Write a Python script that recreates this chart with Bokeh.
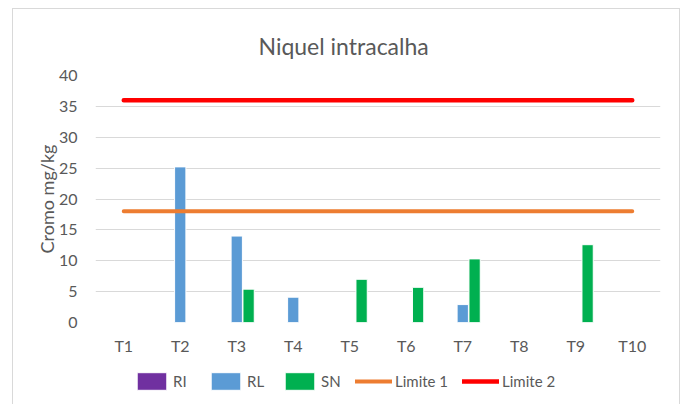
from bokeh.plotting import figure
from bokeh.models import ColumnDataSource, Range1d, FactorRange, Legend, LegendItem, Title
from bokeh.layouts import column
from bokeh.transform import dodge
from bokeh.embed import file_html
from bokeh.resources import INLINE

categories = ["T1", "T2", "T3", "T4", "T5", "T6", "T7", "T8", "T9", "T10"]
ri = [0, 0, 0, 0, 0, 0, 0, 0, 0, 0]
rl = [0, 25.2, 14.0, 4.1, 0, 0, 2.9, 0, 0, 0]
sn = [0, 0, 5.4, 0, 7.0, 5.7, 10.3, 0, 12.6, 0]
limite1 = [18] * 10
limite2 = [36] * 10
colors = {"RI": "#7030A0", "RL": "#5B9BD5", "SN": "#00B050", "Limite 1": "#ED7D31", "Limite 2": "#FF0000"}

src = ColumnDataSource(dict(cat=categories, RI=ri, RL=rl, SN=sn, L1=limite1, L2=limite2))

FONT = "Lato"
GREY = "#595959"


def draw(fig):
    rs = []
    rs.append(fig.vbar(x=dodge("cat", -0.21, range=fig.x_range), top="RI", width=0.2, source=src,
                       fill_color=colors["RI"], line_color="white", line_width=1))
    rs.append(fig.vbar(x=dodge("cat", 0.0, range=fig.x_range), top="RL", width=0.2, source=src,
                       fill_color=colors["RL"], line_color="white", line_width=1))
    rs.append(fig.vbar(x=dodge("cat", 0.21, range=fig.x_range), top="SN", width=0.2, source=src,
                       fill_color=colors["SN"], line_color="white", line_width=1))
    rs.append(fig.line(x="cat", y="L1", source=src, line_color=colors["Limite 1"], line_width=4,
                       line_cap="round"))
    rs.append(fig.line(x="cat", y="L2", source=src, line_color=colors["Limite 2"], line_width=4.5,
                       line_cap="round"))
    return rs


p = figure(width=682, height=360, x_range=FactorRange(*categories), y_range=Range1d(0, 40),
           output_backend="svg", toolbar_location=None,
           min_border_left=95, min_border_right=22, min_border_top=75, min_border_bottom=38)
p.border_fill_alpha = 0

p.title = Title(text="Niquel intracalha", align="left", offset=163, text_font=FONT,
                text_font_size="23px", text_font_style="normal", text_color=GREY, standoff=31)
draw(p)

p.outline_line_color = None
p.xgrid.grid_line_color = None
p.ygrid.grid_line_color = "#d9d9d9"
p.ygrid.grid_line_width = 1
p.yaxis.ticker = [0, 5, 10, 15, 20, 25, 30, 35, 40]

for ax in (p.xaxis[0], p.yaxis[0]):
    ax.axis_line_color = None
    ax.major_tick_line_color = None
    ax.minor_tick_line_color = None
    ax.major_label_text_font = FONT
    ax.major_label_text_font_size = "16px"
    ax.major_label_text_color = GREY
p.xaxis.major_label_standoff = 7
p.yaxis.major_label_standoff = 12
p.yaxis.axis_label = "Cromo mg/kg"
p.yaxis.axis_label_text_font = FONT
p.yaxis.axis_label_text_font_size = "18px"
p.yaxis.axis_label_text_font_style = "normal"
p.yaxis.axis_label_text_color = GREY
p.yaxis.axis_label_standoff = -2

# legend strip: same series drawn out of view, only their legend keys show
lg = figure(width=682, height=44, x_range=FactorRange(*categories), y_range=Range1d(1000, 1001),
            output_backend="svg", toolbar_location=None, x_axis_type=None, y_axis_type=None,
            min_border=0)
lg.border_fill_alpha = 0
lg.background_fill_alpha = 0
lg.outline_line_color = None
lg.xgrid.visible = False
lg.ygrid.visible = False
rs = draw(lg)
items = [LegendItem(label=n, renderers=[r]) for n, r in zip(["RI", "RL", "SN", "Limite 1", "Limite 2"], rs)]

legend = Legend(items=items, orientation="horizontal", location=(38, 12), glyph_width=37,
                glyph_height=22, label_standoff=3, spacing=14, padding=0, margin=0,
                border_line_color=None, background_fill_alpha=0, label_text_font=FONT,
                label_text_font_size="15px", label_text_color=GREY)
lg.add_layout(legend, "center")

layout = column(p, lg, spacing=0)
g = "linear-gradient(#d9d9d9, #d9d9d9)"
layout.styles = {
    "background": f"{g} 12px 8px / 1px 100% no-repeat, {g} 12px 8px / 668px 1px no-repeat, "
                  f"{g} 679px 8px / 1px 100% no-repeat, white"
}
open("out.html", "w").write(file_html(layout, INLINE))
